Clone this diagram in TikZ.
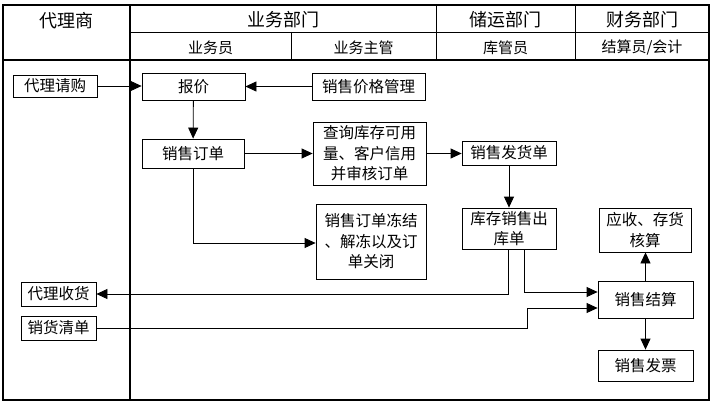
\documentclass[tikz,border=0pt]{standalone}
\usepackage{fontspec}
\setmainfont{Noto Sans CJK SC}
\usetikzlibrary{arrows.meta}

\tikzset{
    box/.style={draw, line width=0.8pt, inner sep=0pt, align=center,
        font=\fontsize{15.5}{20.5}\selectfont},
    head/.style={font=\fontsize{18}{20}\selectfont},
    subhead/.style={font=\fontsize{15}{18}\selectfont},
    arr/.style={line width=0.8pt, -{Triangle[length=11pt, width=10pt]}},
}

\begin{document}
\begin{tikzpicture}[x=1pt, y=-1pt]
    \useasboundingbox (0,0) rectangle (716,404);

    % Frame and lanes
    \draw[line width=1.6pt] (3,5) rectangle (709,400);
    \draw[line width=1.6pt] (3,60) -- (709,60);
    \draw[line width=1.6pt] (130,5) -- (130,400);
    \draw[line width=0.8pt] (130,32) -- (709,32);
    \foreach \x/\ytop in {291/32, 436/5, 575/5} {
        \draw[line width=0.8pt] (\x,\ytop) -- (\x,60);
    }

    % Header texts
    \node[head] (agent) at (66.5,21) {代理商};
    \node[head] (sales) at (283,20) {业务部门};
    \node[head] (store) at (505.5,20) {储运部门};
    \node[head] (fin) at (642,20) {财务部门};
    \node[subhead] (clerk) at (210.5,47.5) {业务员};
    \node[subhead] (boss) at (363.5,47.5) {业务主管};
    \node[subhead] (keeper) at (505.5,47.5) {库管员};
    \node[subhead] (acctnt) at (642,47.5) {结算员/会计};

    % Boxes
    \node[box, minimum width=84pt, minimum height=22pt] (req) at (55,86) {代理请购};
    \node[box, minimum width=103pt, minimum height=27pt] (quote) at (193.5,86.5) {报价};
    \node[box, minimum width=113pt, minimum height=27pt] (price) at (368.5,86.5) {销售价格管理};
    \node[box, minimum width=102pt, minimum height=29pt] (order) at (193,153.5) {销售订单};
    \node[box, minimum width=113pt, minimum height=63pt] (check) at (369.5,153.5) {查询库存可用\\量、客户信用\\并审核订单};
    \node[box, minimum width=94pt, minimum height=24pt] (ship) at (509,153) {销售发货单};
    \node[box, minimum width=110pt, minimum height=75pt] (freeze) at (371,241.5) {销售订单冻结\\、解冻以及订\\单关闭};
    \node[box, minimum width=94pt, minimum height=41pt] (outbd) at (509,228.5) {库存销售出\\库单};
    \node[box, minimum width=92pt, minimum height=44pt] (acct) at (645,230) {应收、存货\\核算};
    \node[box, minimum width=95pt, minimum height=37pt] (settle) at (645.5,299.5) {销售结算};
    \node[box, minimum width=95pt, minimum height=31pt] (invoice) at (645.5,365.5) {销售发票};
    \node[box, minimum width=75pt, minimum height=24pt] (recv) at (58.5,294) {代理收货};
    \node[box, minimum width=75pt, minimum height=24pt] (list) at (58.5,328) {销货清单};

    % Flow
    \draw[arr] (req.east) -- (req.east -| quote.west);
    \draw[arr] (price.west) -- (quote.east);
    \draw[arr] (quote) -- (order);
    \draw[arr] (order) -- (check);
    \draw[arr] (order.south) |- ([yshift=-1.5pt]freeze.west);
    \draw[arr] (check.east) -- (check.east -| ship.west);
    \draw[arr] (ship) -- (outbd);
    \draw[arr] ([xshift=-1pt]outbd.south) |- (recv.east);
    \draw[arr] ([xshift=15pt]outbd.south) |- ([yshift=7.5pt]settle.west);
    \coordinate (jog) at (527,308);
    \draw[arr] (list.east) -| (jog) -- (jog -| settle.west);
    \draw[arr] (settle.north) -- (settle.north |- acct.south);
    \draw[arr] (settle) -- (invoice);
\end{tikzpicture}
\end{document}
